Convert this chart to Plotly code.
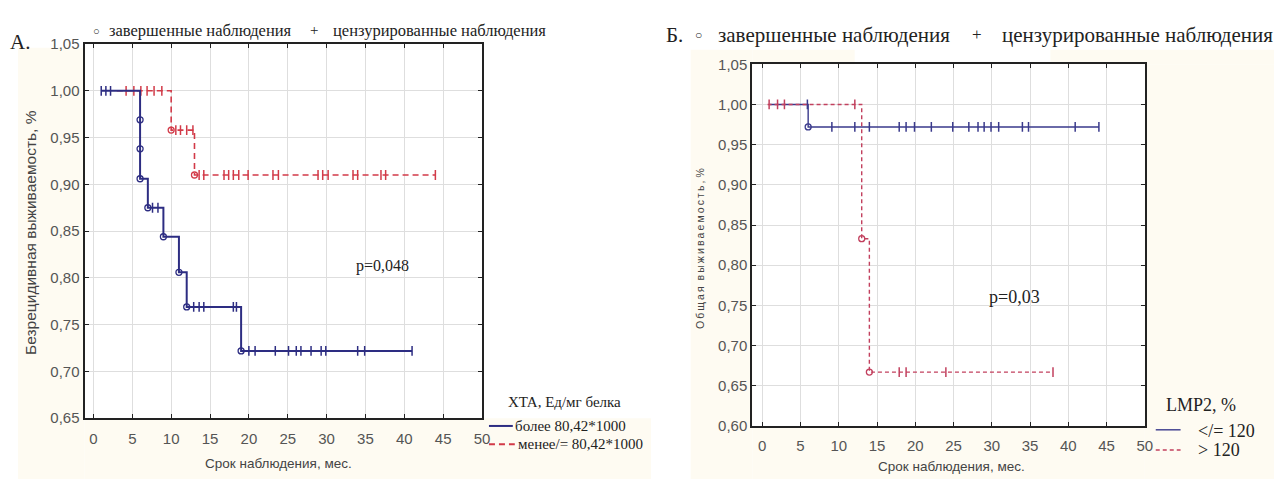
import plotly.graph_objects as go

# The page body has an 8px margin, so the figure is placed at (8, 8) in the window.
OFF = 8
W, H = 1282 - OFF, 487 - OFF

# ---------------- Data ----------------
# Panel A: XTA groups
a_hi_step_x = [1, 6, 7, 9, 11, 12, 19, 41]
a_hi_step_y = [1.0, 0.906, 0.875, 0.844, 0.806, 0.769, 0.722, 0.722]
a_hi_event_x = [6, 6, 6, 7, 9, 11, 12, 19]
a_hi_event_y = [0.969, 0.938, 0.906, 0.875, 0.844, 0.806, 0.769, 0.722]
a_hi_cens_x = [1.0, 1.6, 2.2, 7.6, 8.3, 12.9, 13.6, 14.2, 18.0, 18.4,
               20.0, 20.8, 23.4, 25.1, 26.1, 26.7, 28.0, 29.3, 29.9, 34.0, 34.9, 41.0]
a_hi_cens_y = [1.0, 1.0, 1.0, 0.875, 0.875, 0.769, 0.769, 0.769, 0.769, 0.769,
               0.722, 0.722, 0.722, 0.722, 0.722, 0.722, 0.722, 0.722, 0.722, 0.722, 0.722, 0.722]

a_lo_step_x = [3, 10, 13, 44]
a_lo_step_y = [1.0, 0.958, 0.910, 0.910]
a_lo_event_x = [10, 13]
a_lo_event_y = [0.958, 0.910]
a_lo_cens_x = [4.2, 5.2, 6.1, 6.9, 7.8, 8.8, 10.6, 11.2, 12.0, 12.8,
               13.6, 14.2, 16.8, 17.4, 18.0, 18.7, 19.9, 23.1, 23.8, 28.9, 29.5, 30.2,
               33.4, 34.0, 37.0, 37.6, 44.0]
a_lo_cens_y = [1.0] * 6 + [0.958] * 4 + [0.910] * 17

# Panel B: LMP2 groups
b_lo_step_x = [1, 6, 44]
b_lo_step_y = [1.0, 0.972, 0.972]
b_lo_event_x = [6]
b_lo_event_y = [0.972]
b_lo_cens_x = [5.9, 9.1, 12.1, 14.0, 17.9, 18.8, 19.9, 22.1, 24.9, 27.0, 28.2, 29.0,
               29.9, 30.9, 34.0, 34.8, 40.9, 44.0]
b_lo_cens_y = [1.0] + [0.972] * 17

b_hi_step_x = [0.7, 13, 14, 38]
b_hi_step_y = [1.0, 0.833, 0.667, 0.667]
b_hi_event_x = [13, 14]
b_hi_event_y = [0.833, 0.667]
b_hi_cens_x = [0.9, 2.0, 2.9, 12.1, 17.9, 18.8, 24.0, 38.0]
b_hi_cens_y = [1.0, 1.0, 1.0, 1.0, 0.667, 0.667, 0.667, 0.667]

x_ticks = [0, 5, 10, 15, 20, 25, 30, 35, 40, 45, 50]
a_y_ticks = [0.65, 0.70, 0.75, 0.80, 0.85, 0.90, 0.95, 1.00, 1.05]
b_y_ticks = [0.60, 0.65, 0.70, 0.75, 0.80, 0.85, 0.90, 0.95, 1.00, 1.05]

# ---------------- Styles ----------------
BLUE_A = "#2d2d82"
RED_A = "#d23a48"
BLUE_B = "#3a3a8c"
RED_B = "#c2405e"
SERIF = "Liberation Serif, Times New Roman, serif"
SANS = "Liberation Sans, Arial, sans-serif"
CREAM = "#fefbf2"
DASH_A = "6px,4px"
DASH_B = "4px,3px"

fig = go.Figure()


def add_km(sx, sy, ex, ey, cx, cy, color, dash, width, xa, ya):
    fig.add_trace(go.Scatter(x=sx, y=sy, mode="lines", line_shape="hv",
                             line=dict(color=color, width=width, dash=dash),
                             xaxis=xa, yaxis=ya, showlegend=False, hoverinfo="skip"))
    fig.add_trace(go.Scatter(x=cx, y=cy, mode="markers",
                             marker=dict(symbol="line-ns", size=7, color=color,
                                         line=dict(color=color, width=1.5)),
                             xaxis=xa, yaxis=ya, showlegend=False, hoverinfo="skip"))
    fig.add_trace(go.Scatter(x=ex, y=ey, mode="markers",
                             marker=dict(symbol="circle-open", size=6, color=color,
                                         line=dict(color=color, width=1.3)),
                             xaxis=xa, yaxis=ya, showlegend=False, hoverinfo="skip"))


add_km(a_lo_step_x, a_lo_step_y, a_lo_event_x, a_lo_event_y, a_lo_cens_x, a_lo_cens_y,
       RED_A, DASH_A, 1.6, "x", "y")
add_km(a_hi_step_x, a_hi_step_y, a_hi_event_x, a_hi_event_y, a_hi_cens_x, a_hi_cens_y,
       BLUE_A, "solid", 2.0, "x", "y")
add_km(b_lo_step_x, b_lo_step_y, b_lo_event_x, b_lo_event_y, b_lo_cens_x, b_lo_cens_y,
       BLUE_B, "solid", 1.4, "x2", "y2")
add_km(b_hi_step_x, b_hi_step_y, b_hi_event_x, b_hi_event_y, b_hi_cens_x, b_hi_cens_y,
       RED_B, DASH_B, 1.4, "x2", "y2")


def px(v):
    return (v - OFF) / W


def py(v):
    return 1 - (v - OFF) / H


axis_common = dict(showgrid=True, gridcolor="#dedede", gridwidth=1,
                   showline=True, linecolor="#222", linewidth=2, mirror="allticks",
                   ticks="inside", ticklen=4, tickcolor="#222", zeroline=False,
                   tickfont=dict(family=SANS, size=15, color="#555"))

fig.update_layout(
    width=W, height=H, margin=dict(l=0, r=0, t=0, b=0),
    paper_bgcolor="white", plot_bgcolor="white", separators=", ",
    showlegend=False,
    xaxis=dict(domain=[px(85), px(485)], range=[-1.15, 50], tickvals=x_ticks,
               anchor="y", ticklabelstandoff=6, **axis_common),
    yaxis=dict(domain=[py(424), py(36)], range=[0.65, 1.05], tickvals=a_y_ticks,
               tickformat=".2f", anchor="x", **axis_common),
    xaxis2=dict(domain=[px(757), px(1152)], range=[-1.3, 50], tickvals=x_ticks,
                anchor="y2", ticklabelstandoff=5, **axis_common),
    yaxis2=dict(domain=[py(432), py(57)], range=[0.60, 1.05], tickvals=b_y_ticks,
                tickformat=".2f", anchor="x2", **axis_common),
)

# cream background areas (outside the plotting frames)
for (x0, y0, x1, y1) in [(18, 40, 85, 487), (85, 424, 655, 487),
                         (695, 42, 757, 487), (757, 42, 860, 57),
                         (1057, 42, 1282, 57), (1152, 57, 1282, 487),
                         (757, 432, 1152, 487)]:
    fig.add_shape(type="rect", xref="paper", yref="paper", x0=px(x0), x1=px(x1),
                  y0=py(y1), y1=py(y0), fillcolor=CREAM, line_width=0, layer="below")


def text(x, y, s, size, family=SERIF, color="#222", xanchor="left", angle=0):
    fig.add_annotation(x=px(x), y=py(y), xref="paper", yref="paper", text=s,
                       showarrow=False, xanchor=xanchor, yanchor="middle", textangle=angle,
                       font=dict(family=family, size=size, color=color))


# ---- Panel A texts ----
text(8, 34, "А.", 21)
text(97, 22, "○", 11, xanchor="center")
text(108, 22, "завершенные наблюдения", 16.5)
text(316, 21, "+", 15, xanchor="center")
text(333, 22, "цензурированные наблюдения", 16.5)
text(30, 231, "Безрецидивная выживаемость, %", 15.5, family=SANS, color="#444",
     xanchor="center", angle=-90)
text(280, 471, "Срок наблюдения, мес.", 13.5, family=SANS, color="#444", xanchor="center")
text(385, 266, "p=0,048", 16, xanchor="center")
text(568, 407, "XTA, Ед/мг белка", 15, xanchor="center")
fig.add_shape(type="line", xref="paper", yref="paper", x0=px(492), x1=px(516),
              y0=py(432), y1=py(432), line=dict(color=BLUE_A, width=2))
text(516, 432, "более 80,42*1000", 15)
fig.add_shape(type="line", xref="paper", yref="paper", x0=px(492), x1=px(518),
              y0=py(451), y1=py(451), line=dict(color=RED_A, width=2, dash=DASH_A))
text(519, 451, "менее/= 80,42*1000", 15)

# ---- Panel B texts ----
text(668, 27, "Б.", 21)
text(703, 27, "○", 12, xanchor="center")
text(720, 27, "завершенные наблюдения", 21)
text(983, 26, "+", 17, xanchor="center")
text(1006, 27, "цензурированные наблюдения", 21)
TS = "\u2009"
text(705, 248, TS.join("Общая") + "  " + TS.join("выживаемость,") + " %", 10.5,
     family=SANS, color="#444", xanchor="center", angle=-90)
text(957, 474, "Срок наблюдения, мес.", 13.5, family=SANS, color="#444", xanchor="center")
text(1021, 298, "p=0,03", 18, xanchor="center")
text(1209, 410, "LMP2, %", 18, xanchor="center")
fig.add_shape(type="line", xref="paper", yref="paper", x0=px(1163), x1=px(1188),
              y0=py(436), y1=py(436), line=dict(color=BLUE_B, width=1.4))
text(1204, 437, "&lt;/= 120", 18)
fig.add_shape(type="line", xref="paper", yref="paper", x0=px(1163), x1=px(1188),
              y0=py(457), y1=py(457), line=dict(color=RED_B, width=1.4, dash=DASH_B))
text(1204, 457, "&gt; 120", 18)

fig.write_html("out.html")
